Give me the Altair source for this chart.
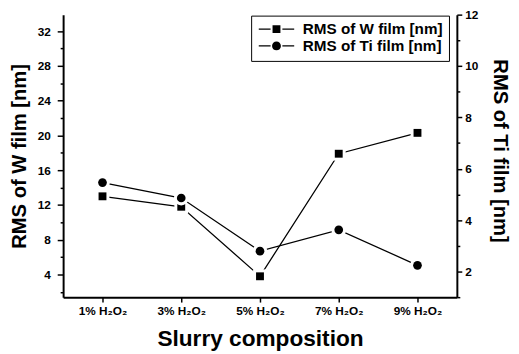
import altair as alt
import pandas as pd

categories = ["1% H₂O₂", "3% H₂O₂", "5% H₂O₂", "7% H₂O₂", "9% H₂O₂"]
w_rms = [13.0, 11.8, 3.8, 17.9, 20.3]
ti_rms = [5.46, 4.86, 2.79, 3.62, 2.24]
series = ["RMS of W film [nm]", "RMS of Ti film [nm]"]
w_ticks = list(range(2, 33, 2))
ti_ticks = list(range(1, 13))

FONT = "Liberation Sans"

df = pd.DataFrame({"cat": categories, "w": w_rms, "ti": ti_rms})
leg_df = pd.DataFrame({"series": series})

x_enc = alt.X(
    "cat:N",
    sort=categories,
    scale=alt.Scale(type="point", padding=0.5),
    axis=alt.Axis(
        title="Slurry composition", labelAngle=0, labelOverlap=False,
        domainColor="black", domainWidth=2, tickColor="black", tickWidth=1.5,
        tickSize=5, labelFont=FONT, labelFontSize=12, labelFontWeight="bold",
        labelColor="black", labelPadding=4, grid=False,
        titleFont=FONT, titleFontSize=23, titleFontWeight="bold", titleColor="black",
        titleX=200, titleY=49, titleBaseline="alphabetic", titleAlign="center",
    ),
)

w_axis = alt.Axis(
    orient="left", values=w_ticks, title="RMS of W film [nm]",
    labelExpr="datum.value % 4 === 0 ? datum.label : ''",
    tickSize={"condition": {"test": "datum.value % 4 === 0", "value": 6}, "value": 3},
    domainColor="black", domainWidth=2, tickColor="black", tickWidth=1.5,
    labelFont=FONT, labelFontSize=12, labelFontWeight="bold", labelColor="black",
    labelPadding=7, grid=False,
    titleFont=FONT, titleFontSize=20.5, titleFontWeight="bold", titleColor="black",
    titleX=-44, titleY=143.5, titleAngle=270, titleBaseline="middle", titleAlign="center",
)
ti_axis = alt.Axis(
    orient="right", values=ti_ticks, title="RMS of Ti film [nm]",
    labelExpr="datum.value % 2 === 0 ? datum.label : ''",
    tickSize={"condition": {"test": "datum.value % 2 === 0", "value": 5}, "value": 3},
    domainColor="black", domainWidth=2, tickColor="black", tickWidth=1.5,
    labelFont=FONT, labelFontSize=12, labelFontWeight="bold", labelColor="black",
    labelPadding=3, grid=False,
    titleFont=FONT, titleFontSize=20.5, titleFontWeight="bold", titleColor="black",
    titleX=43, titleY=138, titleAngle=90, titleBaseline="middle", titleAlign="center",
)

w_scale = alt.Scale(domain=[1.4, 33.9], nice=False, zero=False)
ti_scale = alt.Scale(domain=[1, 12], nice=False, zero=False)

base = alt.Chart(df)
w_group = alt.layer(
    base.mark_line(color="black", strokeWidth=1.3).encode(x=x_enc, y=alt.Y("w:Q", scale=w_scale, axis=w_axis)),
    base.mark_point(shape="square", filled=True, color="white", size=196, opacity=1).encode(x=x_enc, y=alt.Y("w:Q", scale=w_scale, axis=w_axis)),
    base.mark_point(shape="square", filled=True, color="black", size=64, opacity=1).encode(x=x_enc, y=alt.Y("w:Q", scale=w_scale, axis=w_axis)),
)
ti_group = alt.layer(
    base.mark_line(color="black", strokeWidth=1.3).encode(x=x_enc, y=alt.Y("ti:Q", scale=ti_scale, axis=ti_axis)),
    base.mark_point(shape="circle", filled=True, color="white", size=225, opacity=1).encode(x=x_enc, y=alt.Y("ti:Q", scale=ti_scale, axis=ti_axis)),
    base.mark_point(shape="circle", filled=True, color="black", size=78, opacity=1).encode(x=x_enc, y=alt.Y("ti:Q", scale=ti_scale, axis=ti_axis)),
)

path_w = ("M-0.857,-0.093H0.857V0.093H-0.857Z"
          "M1.143,-0.571H2.286V0.571H1.143Z"
          "M2.571,-0.093H4.286V0.093H2.571Z")
path_ti = ("M-0.857,-0.093H0.857V0.093H-0.857Z"
           "M2.357,0A0.643,0.643,0,1,1,1.071,0A0.643,0.643,0,1,1,2.357,0Z"
           "M2.571,-0.093H4.286V0.093H2.571Z")

legend_layer = alt.Chart(leg_df).mark_point(
    filled=True, color="black", opacity=1, clip=True, size=196
).encode(
    shape=alt.Shape(
        "series:N",
        scale=alt.Scale(domain=series, range=[path_w, path_ti]),
        legend=alt.Legend(
            title=None, orient="none", legendX=191, legendY=1,
            labelFont=FONT, labelFontSize=15.5, labelFontWeight="bold", labelColor="black",
            labelOffset=31, padding=6, rowPadding=0, strokeColor="black", fillColor="white",
            symbolSize=196, symbolFillColor="black", symbolStrokeWidth=0, symbolOpacity=1,
            labelLimit=300,
        ),
    ),
    y=alt.value(-200),
)

chart = alt.layer(w_group, ti_group, legend_layer).resolve_scale(
    y="independent"
).properties(
    width=400, height=287,
    padding={"left": 56, "top": 4, "right": 55, "bottom": 55},
    autosize=alt.AutoSizeParams(type="none"),
).configure_view(stroke=None)

chart.save("out.html", embed_options={"renderer": "svg", "actions": False})
